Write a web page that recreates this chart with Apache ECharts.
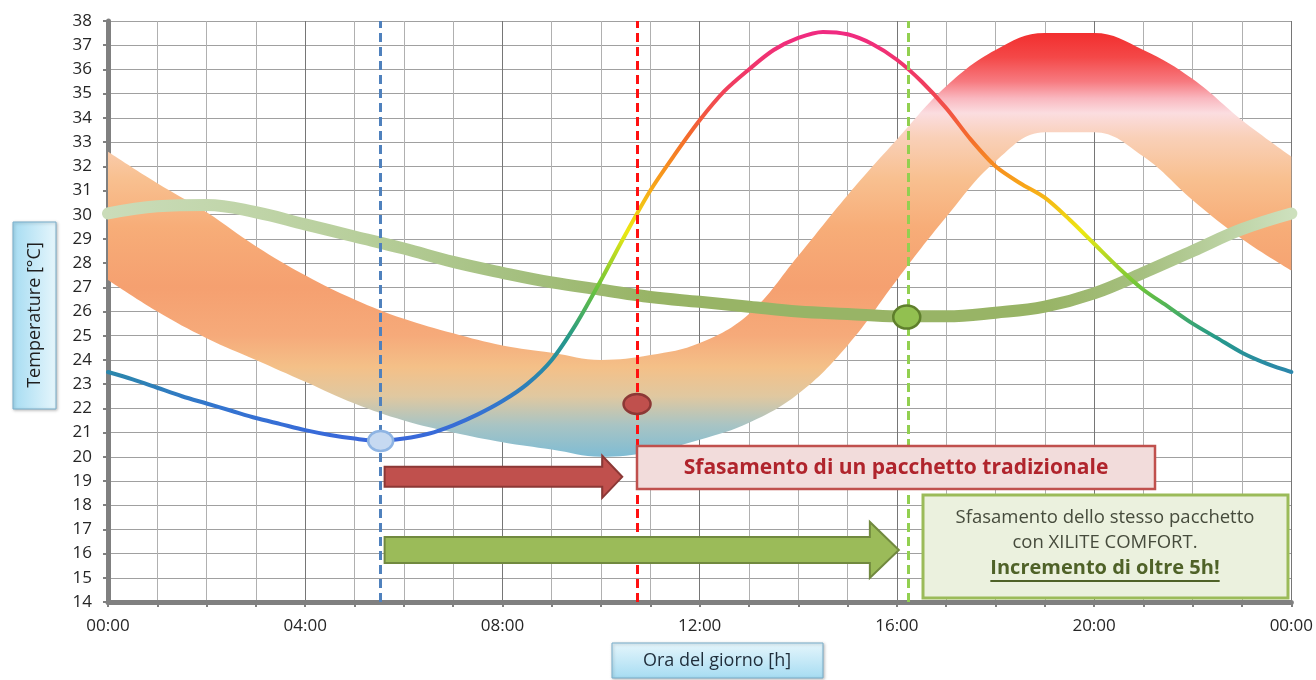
<!DOCTYPE html>
<html><head><meta charset="utf-8">
<script src="https://cdn.jsdelivr.net/npm/echarts@6/dist/echarts.min.js"></script>
<style>html,body{margin:0;padding:0;background:#fff}#c{width:1316px;height:680px}</style>
</head><body><div id="c"></div>
<script>
// ---------------- DATA ----------------
const xTickLabels = ['00:00','04:00','08:00','12:00','16:00','20:00','00:00'];
const bandHours  = ['0','1','2','3','4','5','6','7','8','9','10','11','12','13','14','15','16','17','18','19','20','21','22','23','24'];
const bandUpper  = [32.6,31.3,30.1,28.7,27.5,26.5,25.7,25.1,24.6,24.3,24.0,24.2,24.7,25.9,28.3,30.8,33.1,35.3,36.8,37.5,37.5,36.8,35.6,33.9,32.4];
const bandLower  = [27.3,26.0,24.9,24.0,23.1,22.2,21.5,21.0,20.6,20.3,20.0,20.2,20.7,21.4,22.6,24.6,27.3,29.9,32.2,33.4,33.4,32.4,30.6,29.0,27.7];

const outdoorHours = [0,0.5,1,1.5,2,2.5,3,3.5,4,4.5,5,5.5,6,6.5,7,7.5,8,8.5,9,9.5,10,10.5,11,11.5,12,12.5,13,13.5,14,14.5,15,15.5,16,16.5,17,17.5,18,18.5,19,19.5,20,20.5,21,21.5,22,22.5,23,23.5,24];
const outdoorTemp  = [23.5,23.2,22.85,22.5,22.2,21.9,21.6,21.35,21.1,20.9,20.75,20.65,20.75,20.95,21.3,21.75,22.3,23.0,24.0,25.5,27.3,29.2,31.0,32.5,33.9,35.1,36.0,36.8,37.3,37.55,37.45,37.05,36.4,35.5,34.4,33.1,32.0,31.3,30.7,29.8,28.8,27.8,26.9,26.2,25.5,24.9,24.3,23.85,23.5];

const indoorHours = [0,1,2,3,4,5,6,7,8,9,10,11,12,13,14,15,16,17,18,19,20,21,22,23,24];
const indoorTemp  = [30.05,30.35,30.4,30.1,29.6,29.1,28.6,28.05,27.6,27.2,26.9,26.6,26.4,26.2,26.0,25.9,25.8,25.8,25.95,26.2,26.75,27.6,28.5,29.4,30.05];

const phaseLineHours = [5.53, 10.73, 16.23];
const markerHours = [5.53, 10.73, 16.2];
const markerTemps = [20.65, 22.18, 25.77];

const arrowStart = [5.61, 5.61];
const arrowEnd   = [10.43, 16.04];
const arrowTemp  = [19.17, 16.15];

const yAxisTitle = 'Temperature [°C]';
const xAxisTitle = 'Ora del giorno [h]';
const noteRed = 'Sfasamento di un pacchetto tradizionale';
const noteGreen1 = 'Sfasamento dello stesso pacchetto';
const noteGreen2 = 'con XILITE COMFORT.';
const noteGreen3 = 'Incremento di oltre 5h!';

// ---------------- STYLE ----------------
const FONT = '"Open Sans", "Noto Sans", sans-serif';
const rainbowStops = [[37.5,'#f02a80'],[35.4,'#f03c60'],[33.25,'#f46a2c'],[31.1,'#f8a818'],[29.3,'#ece812'],[27.0,'#6cc43a'],[24.9,'#25998a'],[23.3,'#2c84b0'],[22.0,'#3474d0'],[20.5,'#3a66dc']];
const bandStops = [[37.6,'#f22c2c'],[36.5,'#f44848'],[35.5,'#f77a80'],[34.8,'#f9b8c0'],[34.2,'#fbdde0'],[33.2,'#f9d0b8'],[31.5,'#f8c090'],[29.5,'#f7ad78'],[27,'#f5a070'],[25,'#f6aa7a'],[23.7,'#f4c088'],[22.5,'#e0c8a0'],[21.3,'#a8c4c4'],[20.0,'#7fbcd4']];
const indoorStops = [[0,'#cadcb9'],[5,'#b8cf9c'],[8,'#a6c182'],[11,'#98b466'],[19,'#98b466'],[21,'#a6c080'],[23,'#c0d6aa'],[24,'#cde0bd']];
const phaseColors = ['#4f81bd','#ff1010','#92d050'];
const markerStyles = [
  {size:[25,20], fill:'#c6d9f1', stroke:'#8eb4e3'},
  {size:[27,20], fill:'#c0504d', stroke:'#8c3836'},
  {size:[27,23], fill:'#92c050', stroke:'#5f7f2c'}
];
const arrowStyles = [
  {body:10, half:21, head:20, fill:'#c0504d', stroke:'#8c3836'},
  {body:13, half:28, head:29, fill:'#9bbb59', stroke:'#71893f'}
];

const chart = echarts.init(document.getElementById('c'), null, {renderer:'canvas'});

function zip(a,b){return a.map((v,i)=>[v,b[i]]);}

const option = {
  animation:false,
  backgroundColor:'#ffffff',
  grid:{left:108, right:23, top:21, bottom:78, containLabel:false},
  xAxis:[
    {type:'value', min:0, max:24, interval:1,
     axisLine:{show:true, onZero:false, lineStyle:{color:'#808080', width:5}},
     axisTick:{show:true, length:5, lineStyle:{color:'#808080', width:2}},
     axisLabel:{margin:16, color:'#262626', fontSize:17, fontFamily:FONT,
       formatter:v => (v % 4 === 0 ? xTickLabels[v/4] : '')},
     splitLine:{show:true, lineStyle:{color:'#b0b0b0', width:1}}},
    {type:'value', min:0, max:24, interval:4, position:'bottom',
     axisLine:{show:false}, axisTick:{show:false}, axisLabel:{show:false},
     splitLine:{show:true, lineStyle:{color:'#767676', width:1}}},
    {type:'category', data:bandHours, boundaryGap:false, show:false,
     axisLine:{show:false}, axisTick:{show:false}, axisLabel:{show:false}, splitLine:{show:false}}
  ],
  yAxis:[
    {type:'value', min:14, max:38, interval:1,
     axisLine:{show:true, onZero:false, lineStyle:{color:'#808080', width:5}},
     axisTick:{show:true, length:5, lineStyle:{color:'#808080', width:2}},
     axisLabel:{margin:16, color:'#262626', fontSize:17, fontFamily:FONT},
     splitLine:{show:true, lineStyle:{color:'#a0a0a0', width:1}}}
  ],
  series:[
    {id:'bandLow', type:'line', xAxisIndex:2, yAxisIndex:0, stack:'band', data:bandLower,
     smooth:0.4, showSymbol:false, lineStyle:{width:0, opacity:0}, z:2},
    {id:'bandHigh', type:'line', xAxisIndex:2, yAxisIndex:0, stack:'band',
     data:bandUpper.map((u,i)=>+(u-bandLower[i]).toFixed(2)),
     smooth:0.4, showSymbol:false, lineStyle:{width:0, opacity:0},
     areaStyle:{color:'#f5a070', opacity:1}, z:2},
    {id:'indoor', type:'line', xAxisIndex:0, data:zip(indoorHours, indoorTemp), smooth:0.4,
     showSymbol:false, lineStyle:{width:12, color:'#9cb86c', cap:'round'}, z:3},
    {id:'outdoor', type:'line', xAxisIndex:0, data:zip(outdoorHours, outdoorTemp), smooth:0.3,
     showSymbol:false, lineStyle:{width:4, color:'#3a66dc', cap:'round'}, z:4,
     markLine:{silent:true, symbol:['none','none'], label:{show:false}, animation:false,
       data:phaseLineHours.map((h,i)=>({xAxis:h, lineStyle:{color:phaseColors[i], width:3, type:[9,5]}}))}},
    {id:'arrows', type:'custom', xAxisIndex:0, clip:false, z:6,
     data:arrowStart.map((s,i)=>[s, arrowEnd[i], arrowTemp[i], i]),
     encode:{x:[0,1], y:2},
     renderItem:function(params, api){
       const k = api.value(3);
       const s = arrowStyles[k];
       const p0 = api.coord([api.value(0), api.value(2)]);
       const p1 = api.coord([api.value(1), api.value(2)]);
       const bx = p1[0]-s.head, cy = p0[1];
       const pts = [[p0[0],cy-s.body],[bx,cy-s.body],[bx,cy-s.half],[p1[0],cy],[bx,cy+s.half],[bx,cy+s.body],[p0[0],cy+s.body]];
       return {type:'polygon', shape:{points:pts}, style:{fill:s.fill, stroke:s.stroke, lineWidth:2}};
     }},
    {id:'markers', type:'custom', xAxisIndex:0, clip:false, z:7,
     data:markerHours.map((h,i)=>[h, markerTemps[i], i]),
     encode:{x:0, y:1},
     renderItem:function(params, api){
       const k = api.value(2), s = markerStyles[k];
       const p = api.coord([api.value(0), api.value(1)]);
       return {type:'ellipse', shape:{cx:p[0], cy:p[1], rx:s.size[0]/2, ry:s.size[1]/2},
               style:{fill:s.fill, stroke:s.stroke, lineWidth:2.5}};
     }}
  ]
};
chart.setOption(option);

// gradients in pixel space, derived from axis scales
const py = t => chart.convertToPixel({yAxisIndex:0}, t);
const px = h => chart.convertToPixel({xAxisIndex:0}, h);
function vGrad(stops){
  const y0 = py(stops[0][0]), y1 = py(stops[stops.length-1][0]);
  return new echarts.graphic.LinearGradient(0, y0, 0, y1,
    stops.map(s=>({offset:(py(s[0])-y0)/(y1-y0), color:s[1]})), true);
}
function hGrad(stops){
  const x0 = px(stops[0][0]), x1 = px(stops[stops.length-1][0]);
  return new echarts.graphic.LinearGradient(x0, 0, x1, 0,
    stops.map(s=>({offset:(px(s[0])-x0)/(x1-x0), color:s[1]})), true);
}

const measure = (txt, font) => { const c=document.createElement('canvas').getContext('2d'); c.font=font; return c.measureText(txt).width; };
const boldGreenFont = 'bold 20px ' + FONT;
const ulW = measure(noteGreen3, boldGreenFont);

const gx = 1105;
chart.setOption({
  series:[
    {id:'bandHigh', areaStyle:{color:vGrad(bandStops)}},
    {id:'indoor', lineStyle:{color:hGrad(indoorStops)}},
    {id:'outdoor', lineStyle:{color:vGrad(rainbowStops)}}
  ],
  graphic:[
    {type:'rect', z:100, shape:{x:637, y:446, width:518, height:43},
     style:{fill:'#f2dcdb', stroke:'#c0504d', lineWidth:2.5}},
    {type:'text', z:101, x:896, y:468,
     style:{text:noteRed, font:'bold 21px '+FONT, fill:'#b0242c', align:'center', verticalAlign:'middle'}},
    {type:'rect', z:100, shape:{x:923, y:495, width:365, height:103},
     style:{fill:'#ebf1de', stroke:'#9bbb59', lineWidth:3}},
    {type:'text', z:101, x:gx, y:518,
     style:{text:noteGreen1, font:'18.5px '+FONT, fill:'#464b3c', align:'center', verticalAlign:'middle'}},
    {type:'text', z:101, x:gx, y:543,
     style:{text:noteGreen2, font:'18.5px '+FONT, fill:'#464b3c', align:'center', verticalAlign:'middle'}},
    {type:'text', z:101, x:gx, y:568,
     style:{text:noteGreen3, font:boldGreenFont, fill:'#4f6228', align:'center', verticalAlign:'middle'}},
    {type:'line', z:101, shape:{x1:gx-ulW/2, y1:581, x2:gx+ulW/2, y2:581},
     style:{stroke:'#4f6228', lineWidth:1.8}},
    // axis title boxes
    {type:'rect', z:100, shape:{x:13, y:222, width:43, height:187},
     style:{fill:new echarts.graphic.LinearGradient(0,0,1,0,[{offset:0,color:'#a6dcf2'},{offset:1,color:'#e6f6fc'}]),
            stroke:'#79aecb', lineWidth:1, shadowBlur:3, shadowColor:'rgba(0,0,0,0.25)', shadowOffsetX:1, shadowOffsetY:1}},
    {type:'text', z:101, x:35, y:315, rotation:Math.PI/2,
     style:{text:yAxisTitle, font:'18px '+FONT, fill:'#1f1f1f', align:'center', verticalAlign:'middle'}},
    {type:'rect', z:100, shape:{x:612, y:643, width:211, height:35},
     style:{fill:new echarts.graphic.LinearGradient(0,0,0,1,[{offset:0,color:'#e6f6fc'},{offset:1,color:'#a6dcf2'}]),
            stroke:'#79aecb', lineWidth:1, shadowBlur:3, shadowColor:'rgba(0,0,0,0.25)', shadowOffsetX:1, shadowOffsetY:1}},
    {type:'text', z:101, x:717, y:661,
     style:{text:xAxisTitle, font:'18px '+FONT, fill:'#1f2d3a', align:'center', verticalAlign:'middle'}}
  ]
});
</script></body></html>
